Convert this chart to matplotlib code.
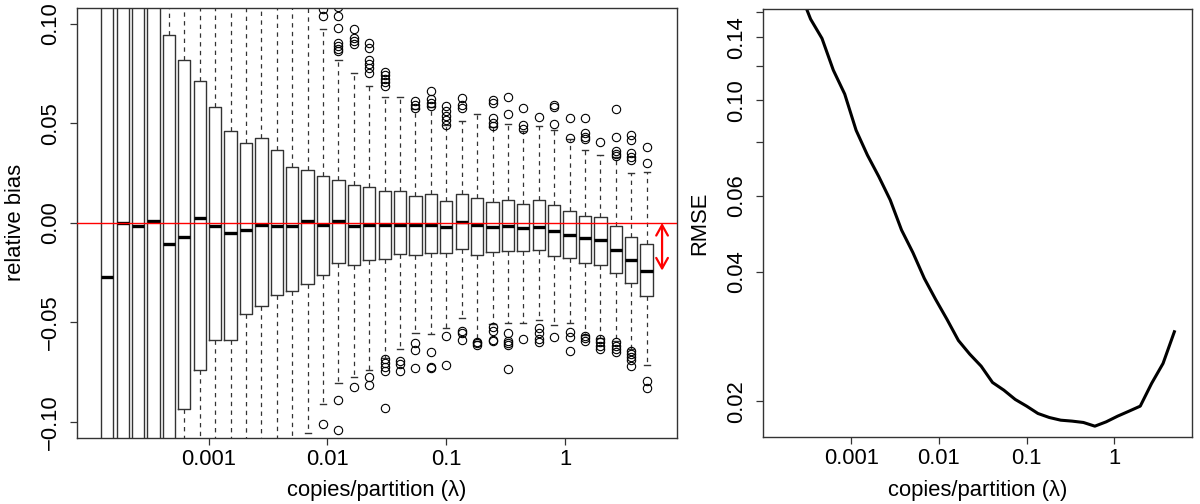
import numpy as np
import matplotlib
matplotlib.use('Agg')
import matplotlib.pyplot as plt
from matplotlib.ticker import NullLocator

plt.rcParams['font.family'] = ['Liberation Sans', 'DejaVu Sans']
plt.rcParams['font.size'] = 15.8

# copies/partition (lambda) for each simulated setting
lam = [1.403e-4, 1.892e-4, 2.547e-4, 3.436e-4, 4.634e-4, 6.237e-4, 8.414e-4,
       1.135e-3, 1.528e-3, 2.061e-3, 2.780e-3, 3.741e-3, 5.047e-3, 6.808e-3,
       9.162e-3, 1.236e-2, 1.667e-2, 2.244e-2, 3.027e-2, 4.083e-2, 5.495e-2,
       7.413e-2, 0.1, 0.1346, 0.1816, 0.2449, 0.3296, 0.4446, 0.5998, 0.8072,
       1.089, 1.469, 1.977, 2.667, 3.597, 4.842]

# relative bias box statistics
med = [-0.0274, 0.0000, -0.0017, 0.0007, -0.0104, -0.0071, 0.0025, -0.0017,
       -0.0050, -0.0034, -0.0012, -0.0017, -0.0017, 0.0010, -0.0010, 0.0007,
       -0.0015, -0.0010, -0.0010, -0.0013, -0.0010, -0.0010, -0.0023, 0.0004,
       -0.0010, -0.0023, -0.0015, -0.0028, -0.0023, -0.0042, -0.0059, -0.0076,
       -0.0087, -0.0134, -0.0185, -0.0240]
q1 = [-0.40, -0.30, -0.22, -0.15, -0.115, -0.0937, -0.0740, -0.0587,
      -0.0587, -0.0456, -0.0416, -0.0365, -0.0343, -0.0308, -0.0260, -0.0202,
      -0.0214, -0.0188, -0.0180, -0.0155, -0.0160, -0.0152, -0.0152, -0.0131,
      -0.0163, -0.0146, -0.0143, -0.0143, -0.0134, -0.0165, -0.0177, -0.0202,
      -0.0214, -0.0253, -0.0301, -0.0369]
q3 = [0.35, 0.28, 0.20, 0.14, 0.0946, 0.0818, 0.0711, 0.0584, 0.0461, 0.0401,
      0.0426, 0.0366, 0.0280, 0.0266, 0.0236, 0.0216, 0.0189, 0.0182, 0.0160,
      0.0159, 0.0136, 0.0143, 0.0108, 0.0143, 0.0125, 0.0103, 0.0115, 0.0094,
      0.0115, 0.0089, 0.0061, 0.0037, 0.0032, -0.0018, -0.0071, -0.0108]
whislo = [-0.90, -0.80, -0.60, -0.45, -0.35, -0.30, -0.25, -0.20, -0.18, -0.15,
          -0.14, -0.125, -0.115, -0.1056, -0.0908, -0.0803, -0.0774, -0.0741,
          -0.0680, -0.0634, -0.0556, -0.0559, -0.0528, -0.0480, -0.0595,
          -0.0508, -0.0503, -0.0502, -0.0488, -0.0513, -0.0505, -0.0562,
          -0.0580, -0.0595, -0.0635, -0.0715]
whishi = [1.20, 1.00, 0.70, 0.45, 0.35, 0.30, 0.26, 0.20, 0.17, 0.14, 0.14,
          0.125, 0.115, 0.112, 0.0977, 0.0817, 0.0751, 0.0690, 0.0633, 0.0631,
          0.0572, 0.0582, 0.0490, 0.0510, 0.0549, 0.0480, 0.0498, 0.0462,
          0.0485, 0.0468, 0.0420, 0.0367, 0.0342, 0.0330, 0.0253, 0.0258]
fliers = [[], [], [], [], [], [], [], [], [], [], [], [], [], [],
          [0.1074, 0.1040, -0.1013],
          [0.1085, 0.1040, 0.0978, 0.0906, 0.0889, 0.0876, 0.0864, -0.0890, -0.1042],
          [0.0973, 0.0931, 0.0914, 0.0897, -0.0823],
          [0.0902, 0.0880, 0.0821, 0.0801, 0.0780, 0.0751, -0.0774, -0.0815],
          [0.0758, 0.0741, 0.0724, 0.0707, 0.0690, -0.0685, -0.0702, -0.0724, -0.0744, -0.0929],
          [-0.0693, -0.0710, -0.0744],
          [0.0611, 0.0594, 0.0578, -0.0606, -0.0639, -0.0730],
          [0.0662, 0.0623, 0.0603, 0.0586, -0.0648, -0.0727, -0.0730],
          [0.0586, 0.0561, 0.0535, 0.0515, 0.0493, -0.0567, -0.0714],
          [0.0628, 0.0594, 0.0578, -0.0545, -0.0556, -0.0589],
          [-0.0598, -0.0606, -0.0613],
          [0.0620, 0.0603, 0.0527, 0.0502, 0.0485, -0.0525, -0.0542, -0.0589, -0.0596],
          [0.0633, 0.0549, -0.0556, -0.0592, -0.0606, -0.0613, -0.0735],
          [0.0578, 0.0493, 0.0470, -0.0584],
          [0.0532, -0.0528, -0.0556, -0.0584, -0.0601],
          [0.0594, 0.0583, 0.0498, -0.0572],
          [0.0527, 0.0426, -0.0547, -0.0576, -0.0643],
          [0.0527, 0.0451, 0.0434, 0.0421, -0.0567, -0.0579, -0.0592],
          [0.0406, -0.0584, -0.0601, -0.0618, -0.0634],
          [0.0573, 0.0431, 0.0359, 0.0347, 0.0335, -0.0601, -0.0618, -0.0634, -0.0648],
          [0.0443, 0.0418, 0.0351, 0.0333, 0.0317, -0.0643, -0.0657, -0.0673, -0.0690, -0.0719],
          [0.0379, 0.0301, -0.0794, -0.0828]]

# root mean squared error per lambda
rmse = [0.30, 0.22, 0.18, 0.1543, 0.1392, 0.1175, 0.1034, 0.0852, 0.0746,
        0.0665, 0.0587, 0.0500, 0.0443, 0.0386, 0.0345, 0.0310, 0.0277,
        0.02575, 0.02415, 0.02213, 0.02124, 0.02021, 0.01950, 0.01875,
        0.01835, 0.01809, 0.01800, 0.01787, 0.01752, 0.01793, 0.01848,
        0.01898, 0.01950, 0.02203, 0.02450, 0.02902]

xt = [0.001, 0.01, 0.1, 1]
xt_lab = ['0.001', '0.01', '0.1', '1']
yt1 = [-0.10, -0.05, 0.0, 0.05, 0.10]
yt1_lab = ['\u22120.10', '\u22120.05', '0.00', '0.05', '0.10']
yt2 = [0.02, 0.04, 0.06, 0.08, 0.10, 0.12, 0.14, 0.16]
yt2_lab = ['0.02', '0.04', '0.06', '', '0.10', '', '0.14', '']

fc = '#333333'
fig = plt.figure(figsize=(12, 5.04), dpi=100)
ax1 = fig.add_axes([0.0642, 0.1315, 0.5, 0.8526])
ax2 = fig.add_axes([0.6356, 0.1335, 0.3575, 0.848])

# left: boxplots of relative bias
pos = np.log10(lam)
stats = [dict(med=m, q1=a, q3=b, whislo=lo, whishi=hi, fliers=f)
         for m, a, b, lo, hi, f in zip(med, q1, q3, whislo, whishi, fliers)]
ax1.bxp(stats, positions=pos, widths=0.1034, capwidths=0.052,
        boxprops=dict(color=fc, lw=1.0),
        whiskerprops=dict(color=fc, lw=0.9, linestyle=(0, (3.5, 3.5))),
        capprops=dict(color=fc, lw=1.0),
        medianprops=dict(color='black', lw=2.4, solid_capstyle='butt'),
        flierprops=dict(marker='o', markersize=6, markerfacecolor='none',
                        markeredgecolor='black', markeredgewidth=0.8),
        manage_ticks=False)
ax1.axhline(0, color='red', lw=1.0, zorder=5)
ax1.annotate('', xy=(0.815, 0), xytext=(0.815, med[-1]),
             arrowprops=dict(arrowstyle='<->,head_length=0.75,head_width=0.42',
                             color='red', lw=1.6, shrinkA=0, shrinkB=0,
                             mutation_scale=10))
ax1.set_xlim(-4.107, 0.941)
ax1.set_ylim(-0.108, 0.108)
ax1.set_xticks(np.log10(xt))
ax1.set_xticklabels(xt_lab)
ax1.set_yticks(yt1)
ax1.set_yticklabels(yt1_lab)
ax1.set_xlabel('copies/partition (\u03bb)')
ax1.set_ylabel('relative bias', va='center')
ax1.yaxis.set_label_coords(-0.103, 0.5)
ax1.xaxis.set_label_coords(0.5, -0.098)

# right: RMSE on log-log axes
ax2.plot(lam, rmse, color='black', lw=2.2)
ax2.set_xscale('log')
ax2.set_yscale('log')
ax2.set_xlim(10 ** -4.010, 10 ** 0.883)
ax2.set_ylim(0.01656, 0.1626)
ax2.set_xticks(xt)
ax2.set_xticklabels(xt_lab)
ax2.set_yticks(yt2)
ax2.set_yticklabels(yt2_lab)
ax2.xaxis.set_minor_locator(NullLocator())
ax2.yaxis.set_minor_locator(NullLocator())
ax2.set_xlabel('copies/partition (\u03bb)')
ax2.set_ylabel('RMSE', va='center')
ax2.yaxis.set_label_coords(-0.146, 0.5)
ax2.xaxis.set_label_coords(0.5, -0.101)

for ax in (ax1, ax2):
    for s in ax.spines.values():
        s.set_color(fc)
        s.set_linewidth(1.0)
    ax.tick_params(axis='both', direction='out', length=5.3, width=0.9, color=fc)
    ax.tick_params(axis='x', pad=3)
    ax.tick_params(axis='y', pad=6, labelrotation=90)
    for lab in ax.get_yticklabels():
        lab.set_va('center')

fig.savefig('out.png', dpi=100)
